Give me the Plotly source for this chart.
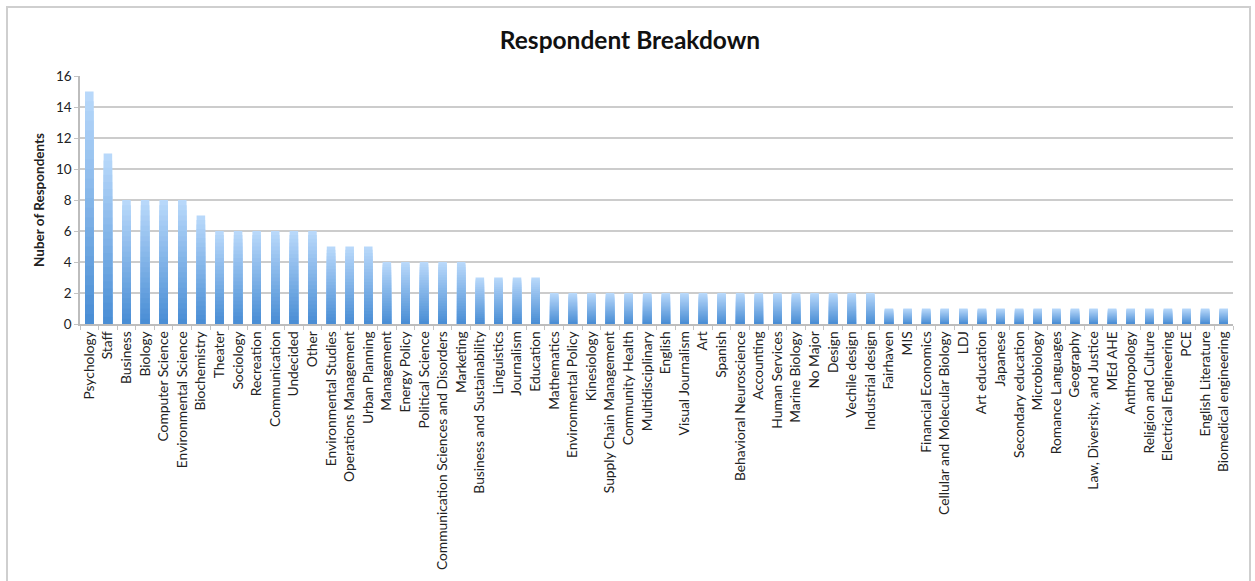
import plotly.graph_objects as go

categories = [
    "Psychology", "Staff", "Business", "Biology", "Computer Science", "Environmental Science",
    "Biochemistry", "Theater", "Sociology", "Recreation", "Communication", "Undecided", "Other",
    "Environmental Studies", "Operations Management", "Urban Planning", "Management", "Energy Policy",
    "Political Science", "Communication Sciences and Disorders", "Marketing",
    "Business and Sustainability", "Linguistics", "Journalism", "Education", "Mathematics",
    "Environmental Policy", "Kinesiology", "Supply Chain Management", "Community Health",
    "Multidisciplinary", "English", "Visual Journalism", "Art", "Spanish", "Behavioral Neuroscience",
    "Accounting", "Human Services", "Marine Biology", "No Major", "Design", "Vechile design",
    "Industrial design", "Fairhaven", "MIS", "Financial Economics", "Cellular and Molecular Biology",
    "LDJ", "Art education", "Japanese", "Secondary education", "Microbiology", "Romance Languages",
    "Geography", "Law, Diversity, and Justice", "MEd AHE", "Anthropology", "Religion and Culture",
    "Electrical Engineering", "PCE", "English Literature", "Biomedical engineering",
]
respondents = [
    15, 11, 8, 8, 8, 8,
    7, 6, 6, 6, 6, 6, 6,
    5, 5, 5, 4, 4,
    4, 4, 4,
    3, 3, 3, 3, 2,
    2, 2, 2, 2,
    2, 2, 2, 2, 2, 2,
    2, 2, 2, 2, 2, 2,
    2, 1, 1, 1, 1,
    1, 1, 1, 1, 1, 1,
    1, 1, 1, 1, 1,
    1, 1, 1, 1,
]
y_ticks = [0, 2, 4, 6, 8, 10, 12, 14, 16]

FONT = "Lato"
fig = go.Figure()

# vertical gradient: light at top, darker at bottom (layered bars scaled to each value)
top = (184, 216, 250)
bot = (74, 142, 213)
N = 24
for k in range(N):
    frac = 1 - k / N
    t = k / (N - 1)
    c = tuple(int(round(top[i] + (bot[i] - top[i]) * t)) for i in range(3))
    fig.add_trace(go.Bar(
        x=categories,
        y=[v * frac for v in respondents],
        marker=dict(color="rgb(%d,%d,%d)" % c, line=dict(width=0)),
        hoverinfo="skip" if k else None,
        showlegend=False,
    ))

fig.update_layout(
    barmode="overlay",
    bargap=0.54,
    width=1255, height=581,
    margin=dict(l=80, r=22, t=76, b=257),
    paper_bgcolor="white",
    plot_bgcolor="white",
    font=dict(family=FONT, color="#222222"),
    title=dict(
        text="<b>Respondent Breakdown</b>",
        x=(630) / 1255, xref="container", y=1 - 40 / 581, yref="container",
        xanchor="center", yanchor="middle",
        font=dict(family=FONT, size=24.5, color="#111111"),
    ),
    xaxis=dict(
        type="category",
        tickangle=-90,
        tickfont=dict(family=FONT, size=13.8, color="#222222"),
        showline=True, linecolor="#bdbdbd", linewidth=1.5,
        ticks="outside", ticklen=4, tickcolor="#c4c4c4", tickson="boundaries",
        showgrid=False,
        range=[-0.5, len(categories) - 0.5],
    ),
    yaxis=dict(
        range=[0, 16],
        tickvals=y_ticks,
        tickfont=dict(family=FONT, size=13.5, color="#222222"),
        showgrid=True, gridcolor="#cccccc", gridwidth=2,
        showline=True, linecolor="#bdbdbd", linewidth=1.5,
        ticks="outside", ticklen=4, tickcolor="#c4c4c4",
        zeroline=False,
        title=dict(text="<b>Nuber of Respondents</b>", font=dict(family=FONT, size=13.5, color="#222222"), standoff=8),
    ),
    shapes=[dict(
        type="rect", xref="paper", yref="paper",
        x0=(7 - 80) / 1153, x1=(1250 - 80) / 1153,
        y0=(257 - 600) / 248, y1=(257 + 248 + 76 - 7 - 257) / 248,
        line=dict(color="#cfcfcf", width=2), fillcolor="rgba(0,0,0,0)", layer="below",
    )],
)

fig.write_html("out.html")
